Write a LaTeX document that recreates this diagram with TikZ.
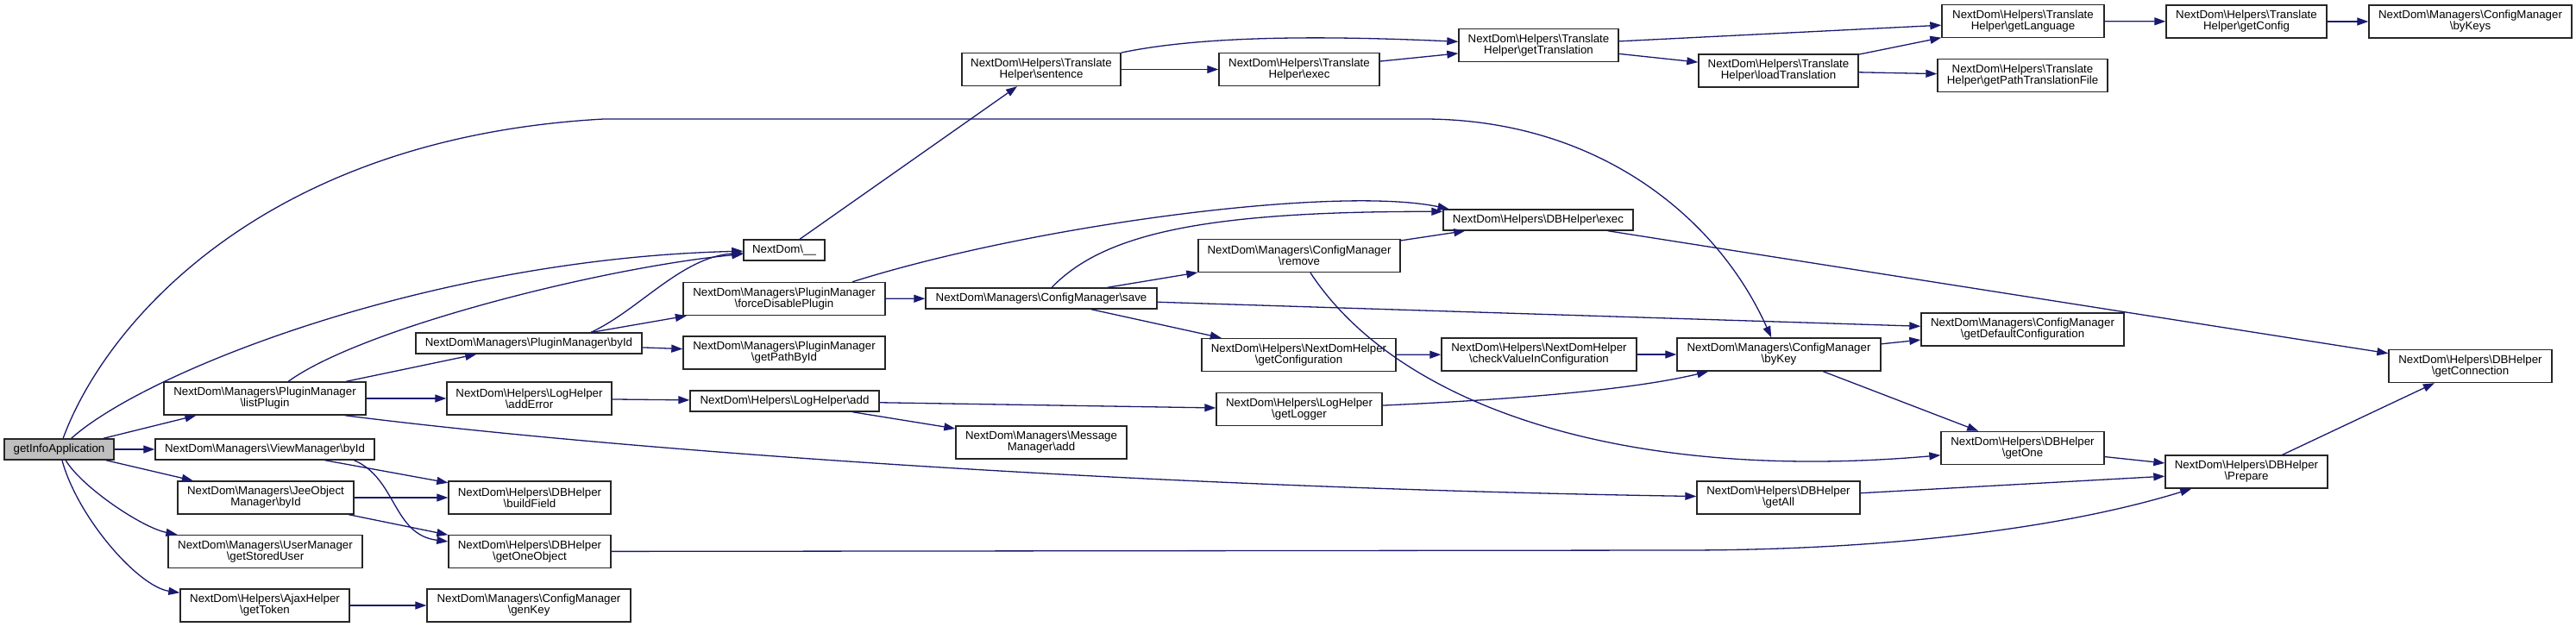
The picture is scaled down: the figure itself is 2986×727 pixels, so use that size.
\documentclass[tikz,border=0pt]{standalone}
\usepackage{fontspec}
\setmainfont{Liberation Sans}
\usepackage{xcolor}
\usepackage{tikz}
\usetikzlibrary{arrows.meta}
\definecolor{edgeblue}{HTML}{191970}
\newcommand{\bs}{\textbackslash}
\newcommand{\gfont}{\fontsize{13.3pt}{13pt}\selectfont}

\begin{document}
\begin{tikzpicture}[x=1pt,y=-1pt,>={Triangle[length=13pt,width=9pt]},font=\gfont]
\tikzstyle{box}=[draw=black!85,fill=white,line width=1.4pt,inner sep=0pt,minimum height=24pt,align=center]
\tikzstyle{tall}=[minimum height=38pt]
\tikzstyle{call}=[->,draw=edgeblue,line width=1.3pt]
\useasboundingbox (0,0) rectangle (2986,727);
\node[box,fill=black!25,minimum width=127pt] (info) at (68.5,521) {getInfoApplication};
\node[box,tall,minimum width=234pt] (listplugin) at (307,462) {NextDom\bs Managers\bs PluginManager\\\bs listPlugin};
\node[box,minimum width=254pt] (viewbyid) at (307,521) {NextDom\bs Managers\bs ViewManager\bs byId};
\node[box,tall,minimum width=204pt] (jeebyid) at (308,577) {NextDom\bs Managers\bs JeeObject\\Manager\bs byId};
\node[box,tall,minimum width=225pt] (storeduser) at (307.5,639.5) {NextDom\bs Managers\bs UserManager\\\bs getStoredUser};
\node[box,tall,minimum width=196pt] (gettoken) at (307,702) {NextDom\bs Helpers\bs AjaxHelper\\\bs getToken};
\node[box,minimum width=262pt] (pluginbyid) at (613,398) {NextDom\bs Managers\bs PluginManager\bs byId};
\node[box,tall,minimum width=191pt] (adderror) at (613.5,462) {NextDom\bs Helpers\bs LogHelper\\\bs addError};
\node[box,tall,minimum width=188pt] (buildfield) at (614,577) {NextDom\bs Helpers\bs DBHelper\\\bs buildField};
\node[box,tall,minimum width=188pt] (getoneobject) at (614,639.5) {NextDom\bs Helpers\bs DBHelper\\\bs getOneObject};
\node[box,tall,minimum width=236pt] (genkey) at (613,702) {NextDom\bs Managers\bs ConfigManager\\\bs genKey};
\node[box,minimum width=94pt] (nd) at (909,290) {NextDom\bs\_\_};
\node[box,tall,minimum width=234pt] (forcedisable) at (909,346.5) {NextDom\bs Managers\bs PluginManager\\\bs forceDisablePlugin};
\node[box,tall,minimum width=234pt] (getpathbyid) at (909,409) {NextDom\bs Managers\bs PluginManager\\\bs getPathById};
\node[box,minimum width=219pt] (logadd) at (909.5,465) {NextDom\bs Helpers\bs LogHelper\bs add};
\node[box,tall,minimum width=184pt] (sentence) at (1207,80.5) {NextDom\bs Helpers\bs Translate\\Helper\bs sentence};
\node[box,minimum width=268pt] (save) at (1207,346) {NextDom\bs Managers\bs ConfigManager\bs save};
\node[box,tall,minimum width=198pt] (msgadd) at (1207,513) {NextDom\bs Managers\bs Message\\Manager\bs add};
\node[box,tall,minimum width=186pt] (trexec) at (1506,80.5) {NextDom\bs Helpers\bs Translate\\Helper\bs exec};
\node[box,tall,minimum width=234pt] (remove) at (1506,296.5) {NextDom\bs Managers\bs ConfigManager\\\bs remove};
\node[box,tall,minimum width=225pt] (getconfiguration) at (1505.5,411.5) {NextDom\bs Helpers\bs NextDomHelper\\\bs getConfiguration};
\node[box,tall,minimum width=192pt] (getlogger) at (1506,474.5) {NextDom\bs Helpers\bs LogHelper\\\bs getLogger};
\node[box,tall,minimum width=185pt] (gettranslation) at (1783.5,52.5) {NextDom\bs Helpers\bs Translate\\Helper\bs getTranslation};
\node[box,minimum width=220pt] (dbexec) at (1783,255) {NextDom\bs Helpers\bs DBHelper\bs exec};
\node[box,tall,minimum width=226pt] (checkvalue) at (1784,411) {NextDom\bs Helpers\bs NextDomHelper\\\bs checkValueInConfiguration};
\node[box,tall,minimum width=185pt] (loadtranslation) at (2061.5,82) {NextDom\bs Helpers\bs Translate\\Helper\bs loadTranslation};
\node[box,tall,minimum width=236pt] (bykey) at (2062,411) {NextDom\bs Managers\bs ConfigManager\\\bs byKey};
\node[box,tall,minimum width=189pt] (getall) at (2061.5,577) {NextDom\bs Helpers\bs DBHelper\\\bs getAll};
\node[box,tall,minimum width=188pt] (getlanguage) at (2345,24.5) {NextDom\bs Helpers\bs Translate\\Helper\bs getLanguage};
\node[box,tall,minimum width=197pt] (getpathfile) at (2344.5,87.5) {NextDom\bs Helpers\bs Translate\\Helper\bs getPathTranslationFile};
\node[box,tall,minimum width=235pt] (getdefault) at (2344.5,382) {NextDom\bs Managers\bs ConfigManager\\\bs getDefaultConfiguration};
\node[box,tall,minimum width=189pt] (getone) at (2344.5,519.5) {NextDom\bs Helpers\bs DBHelper\\\bs getOne};
\node[box,tall,minimum width=186pt] (getconfig) at (2604,25) {NextDom\bs Helpers\bs Translate\\Helper\bs getConfig};
\node[box,tall,minimum width=188pt] (prepare) at (2604,547) {NextDom\bs Helpers\bs DBHelper\\\bs Prepare};
\node[box,tall,minimum width=235pt] (bykeys) at (2863.5,25) {NextDom\bs Managers\bs ConfigManager\\\bs byKeys};
\node[box,tall,minimum width=189pt] (getconnection) at (2863.5,424.5) {NextDom\bs Helpers\bs DBHelper\\\bs getConnection};
\draw[call] (info) -- (viewbyid);
\draw[call] (info) -- (listplugin);
\draw[call] (info) -- (jeebyid);
\draw[call] (info) .. controls (95,565) and (165,612) .. (storeduser);
\draw[call] (info) .. controls (90,600) and (160,680) .. (gettoken);
\draw[call] (info) .. controls (170,430) and (500,300) .. (nd);
\draw[call] (info) .. controls (120,380) and (300,160) .. (700,138) -- (1650,138) .. controls (1850,138) and (1990,250) .. (bykey);
\draw[call] (listplugin) .. controls (420,380) and (700,310) .. (nd);
\draw[call] (listplugin) -- (pluginbyid);
\draw[call] (listplugin) -- (adderror);
\draw[call] (listplugin.-12) .. controls (700,520) and (1300,565) .. (getall);
\draw[call] (pluginbyid.10) .. controls (740,360) and (790,298) .. (nd);
\draw[call] (pluginbyid) -- (forcedisable);
\draw[call] (pluginbyid) -- (getpathbyid);
\draw[call] (viewbyid) -- (buildfield);
\draw[call] (viewbyid.-7) .. controls (460,555) and (455,620) .. (getoneobject);
\draw[call] (jeebyid) -- (buildfield);
\draw[call] (jeebyid) -- (getoneobject);
\draw[call] (gettoken) -- (genkey);
\draw[call] (getoneobject) -- (1950,638) .. controls (2200,638) and (2400,610) .. (prepare);
\draw[call] (adderror) -- (logadd);
\draw[call] (logadd) -- (getlogger);
\draw[call] (logadd) -- (msgadd);
\draw[call] (nd) -- (sentence);
\draw[call] (forcedisable) -- (save);
\draw[call] (forcedisable.14) .. controls (1200,260) and (1550,215) .. (dbexec.173);
\draw[call] (save) .. controls (1280,270) and (1400,245) .. (dbexec.175);
\draw[call] (save) -- (remove);
\draw[call] (save) -- (getconfiguration);
\draw[call] (save) -- (getdefault);
\draw[call] (remove) -- (dbexec);
\draw[call] (remove) .. controls (1620,470) and (1880,560) .. (getone);
\draw[call] (getconfiguration) -- (checkvalue);
\draw[call] (checkvalue) -- (bykey);
\draw[call] (getlogger) .. controls (1780,462) and (1900,450) .. (bykey);
\draw[call] (bykey) -- (getdefault);
\draw[call] (bykey) -- (getone);
\draw[call] (dbexec) -- (getconnection);
\draw[call] (getone) -- (prepare);
\draw[call] (getall) -- (prepare);
\draw[call] (prepare) -- (getconnection);
\draw[call] (sentence) -- (trexec);
\draw[call] (sentence) .. controls (1400,40) and (1550,42) .. (gettranslation);
\draw[call] (trexec) -- (gettranslation);
\draw[call] (gettranslation) -- (getlanguage);
\draw[call] (gettranslation) -- (loadtranslation);
\draw[call] (loadtranslation) -- (getlanguage);
\draw[call] (loadtranslation) -- (getpathfile);
\draw[call] (getlanguage) -- (getconfig);
\draw[call] (getconfig) -- (bykeys);
\end{tikzpicture}
\end{document}
